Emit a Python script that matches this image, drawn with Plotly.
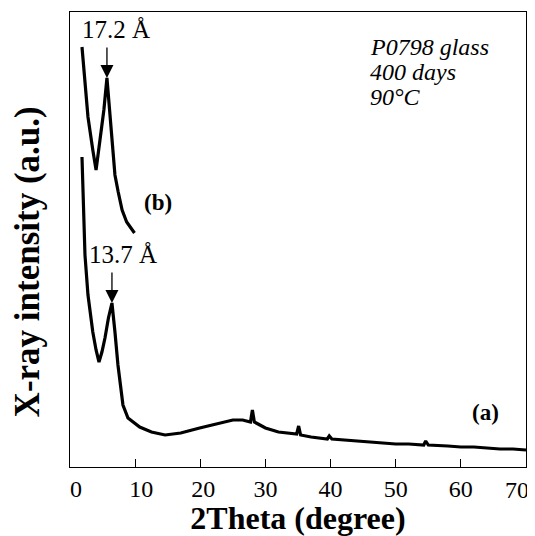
import plotly.graph_objects as go

# Curve (a): 2Theta (degree) vs intensity (a.u.)
two_theta_a = [1.84, 2.0, 2.3, 2.76, 3.5, 4.0, 4.45, 4.9, 5.37, 5.9, 6.44, 6.9, 7.36, 8.13, 8.9,
               10.7, 12.5, 14.6, 17, 19.9, 22.5, 25.0, 26.5, 27.7, 28.0, 28.3, 30, 32, 34.8, 35.1,
               35.4, 37, 39.5, 39.8, 40.2, 42, 45, 48, 50, 52, 54.3, 54.6, 55, 58, 60, 62, 64,
               66, 68, 70]
intensity_a = [310, 267, 212, 172, 135, 117, 105, 115, 129, 149, 164, 135, 102, 62, 49,
               40, 35, 32, 34, 39, 43, 47, 47, 45, 57, 45, 39, 35, 33, 41,
               32, 30, 28, 31, 28, 27, 26, 24, 23, 23, 22, 26, 22, 21, 20, 20, 19,
               18, 18, 17]

# Curve (b)
two_theta_b = [1.84, 2.3, 2.76, 3.5, 4.0, 4.6, 5.2, 5.67, 6.1, 6.5, 6.9, 7.4, 8.0, 8.7, 9.5, 9.9]
intensity_b = [420, 384, 350, 317, 297, 327, 357, 389, 352, 322, 292, 275, 257, 245, 237, 234]

x_ticks = [0, 10, 20, 30, 40, 50, 60, 70]
NB = "\u00a0"
# last label (70) is drawn as an annotation nudged left so it stays inside the page
x_tick_text = [NB * 2 + "0", NB * 2 + "10", NB + "20", "30", "40", "50", "60", ""]
last_tick_label = "70"

peak_b = (5.67, 389)
peak_a = (6.44, 164)

info_lines = ["P0798 glass", "400 days", "90°C"]

serif = "Liberation Serif, Times New Roman, serif"

fig = go.Figure()
fig.add_trace(go.Scatter(x=two_theta_a, y=intensity_a, mode="lines",
                         line=dict(color="black", width=3.2), showlegend=False))
fig.add_trace(go.Scatter(x=two_theta_b, y=intensity_b, mode="lines",
                         line=dict(color="black", width=3.2), showlegend=False))

annotations = []
for (px, py) in [peak_b, peak_a]:
    annotations.append(dict(x=px, y=py, xref="x", yref="y", text="", showarrow=True,
                            arrowhead=2, arrowsize=2, arrowwidth=1.3, arrowcolor="black",
                            ax=0, ay=-32, standoff=0))
annotations.append(dict(x=7.0, y=438, xref="x", yref="y", text="17.2 Å", showarrow=False,
                        font=dict(family=serif, size=25, color="black")))
annotations.append(dict(x=8.2, y=213, xref="x", yref="y", text="13.7 Å", showarrow=False,
                        font=dict(family=serif, size=25, color="black")))
annotations.append(dict(x=13.5, y=265, xref="x", yref="y", text="<b>(b)</b>", showarrow=False,
                        font=dict(family=serif, size=23, color="black")))
annotations.append(dict(x=63.8, y=55, xref="x", yref="y", text="<b>(a)</b>", showarrow=False,
                        font=dict(family=serif, size=23, color="black")))
for i, t in enumerate(info_lines):
    annotations.append(dict(x=45.7, y=420 - 25 * i, xref="x", yref="y", xanchor="left",
                            yanchor="middle", align="left", showarrow=False,
                            text="<i>" + t + "</i>",
                            font=dict(family=serif, size=24, color="black")))
# last x tick label
annotations.append(dict(x=x_ticks[-1], y=0, xref="x", yref="paper", xanchor="center",
                        yanchor="middle", xshift=-9, yshift=-23, showarrow=False,
                        text=last_tick_label,
                        font=dict(family=serif, size=24, color="black")))
# y-axis title
annotations.append(dict(x=-0.094, y=0.45, xref="paper", yref="paper", xanchor="center",
                        yanchor="middle", textangle=-90, showarrow=False,
                        text="<b>X-ray intensity (a.u.)</b>",
                        font=dict(family=serif, size=35, color="black")))

# page body has an 8px margin, so the figure is 8px smaller and shifted
fig.update_layout(
    width=527, height=528,
    margin=dict(l=62, r=9, t=4, b=69, autoexpand=False),
    paper_bgcolor="white", plot_bgcolor="white",
    annotations=annotations,
    xaxis=dict(range=[0, 70], tickvals=x_ticks, ticktext=x_tick_text, ticks="inside",
               ticklen=8, tickcolor="black", ticklabeloverflow="allow", automargin=False,
               showline=True, linecolor="black", linewidth=1, mirror=True, showgrid=False,
               zeroline=False, tickfont=dict(family=serif, size=24, color="black"),
               title=dict(text="<b>2Theta (degree)</b>", standoff=6,
                          font=dict(family=serif, size=32, color="black"))),
    yaxis=dict(range=[0, 455], showticklabels=False, ticks="", showline=True,
               automargin=False,
               linecolor="black", linewidth=1, mirror=True, showgrid=False, zeroline=False),
)

fig.write_html("out.html")
